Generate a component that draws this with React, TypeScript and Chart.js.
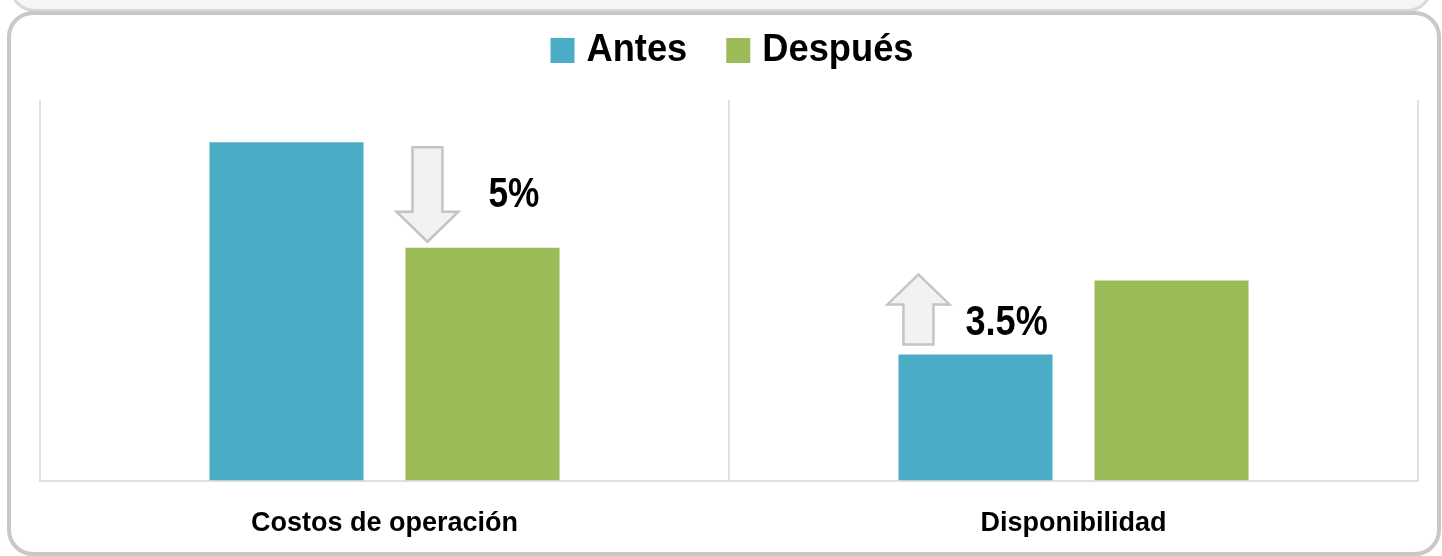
import React, { useEffect, useRef } from "react";
import { Chart, registerables } from "chart.js";

Chart.register(...registerables);

const categories = ["Costos de operación", "Disponibilidad"];
const seriesNames = ["Antes", "Después"];
const antesValues = [88.9, 33.1];
const despuesValues = [61.2, 52.6];
const changeLabels = ["5%", "3.5%"];
const changeDirections = ["down", "up"];

const BLUE = "#4BACC6";
const GREEN = "#9BBB59";
const FONT = '"Liberation Sans", Arial, Helvetica, sans-serif';

function drawArrow(ctx: CanvasRenderingContext2D, cx: number, yTail: number, yTip: number) {
  const dir = yTip > yTail ? 1 : -1;
  const shaftHalf = 15;
  const headHalf = 31;
  const headLen = 30;
  const yHeadBase = yTip - dir * headLen;
  ctx.save();
  ctx.beginPath();
  ctx.moveTo(cx - shaftHalf, yTail);
  ctx.lineTo(cx + shaftHalf, yTail);
  ctx.lineTo(cx + shaftHalf, yHeadBase);
  ctx.lineTo(cx + headHalf, yHeadBase);
  ctx.lineTo(cx, yTip);
  ctx.lineTo(cx - headHalf, yHeadBase);
  ctx.lineTo(cx - shaftHalf, yHeadBase);
  ctx.closePath();
  ctx.fillStyle = "#f2f2f2";
  ctx.fill();
  ctx.strokeStyle = "#c4c4c4";
  ctx.lineWidth = 2.5;
  ctx.lineJoin = "miter";
  ctx.stroke();
  ctx.restore();
}

function drawCondensed(ctx: CanvasRenderingContext2D, text: string, x: number, yMid: number, size: number, sx: number) {
  ctx.save();
  ctx.translate(x, yMid);
  ctx.scale(sx, 1);
  ctx.font = `bold ${size}px ${FONT}`;
  ctx.fillStyle = "#000";
  ctx.textAlign = "left";
  ctx.textBaseline = "middle";
  ctx.fillText(text, 0, 0);
  ctx.restore();
}

const annotationPlugin = {
  id: "changeAnnotations",
  afterDatasetsDraw(chart: any) {
    const ctx = chart.ctx as CanvasRenderingContext2D;
    const m0 = chart.getDatasetMeta(0);
    const m1 = chart.getDatasetMeta(1);
    categories.forEach((_, i) => {
      const a = m0.data[i];
      const d = m1.data[i];
      if (!a || !d) return;
      if (changeDirections[i] === "down") {
        const left = d.x - d.width / 2;
        const cx = left + 22;
        drawArrow(ctx, cx, a.y + 5, d.y - 6);
        drawCondensed(ctx, changeLabels[i], left + 83, (a.y + d.y) / 2, 43, 0.82);
      } else {
        const left = a.x - a.width / 2;
        const cx = left + 20;
        drawArrow(ctx, cx, a.y - 10, d.y - 6);
        drawCondensed(ctx, changeLabels[i], left + 67, (a.y + d.y) / 2 + 6, 43, 0.84);
      }
    });
  },
};

const legendPlugin = {
  id: "customLegend",
  afterDraw(chart: any) {
    const ctx = chart.ctx as CanvasRenderingContext2D;
    const colors = [BLUE, GREEN];
    const size = 39;
    const sx = 0.93;
    ctx.save();
    ctx.font = `bold ${size}px ${FONT}`;
    const box = 24;
    const gapText = 12;
    const gapItem = 39;
    const widths = seriesNames.map((s) => ctx.measureText(s).width * sx);
    ctx.restore();
    let total = 0;
    widths.forEach((w, i) => {
      total += box + gapText + w + (i < widths.length - 1 ? gapItem : 0);
    });
    const center = (chart.chartArea.left + chart.chartArea.right) / 2 + 3;
    let x = center - total / 2;
    const yMid = 50;
    seriesNames.forEach((s, i) => {
      ctx.save();
      ctx.fillStyle = colors[i];
      ctx.fillRect(x, yMid - 12, box, 25);
      ctx.restore();
      x += box + gapText;
      drawCondensed(ctx, s, x, yMid, size, sx);
      x += widths[i] + gapItem;
    });
  },
};

export default function App() {
  const ref = useRef<HTMLCanvasElement>(null);
  useEffect(() => {
    if (!ref.current) return;
    const chart = new Chart(ref.current, {
      type: "bar",
      data: {
        labels: categories,
        datasets: [
          {
            label: seriesNames[0],
            data: antesValues,
            backgroundColor: BLUE,
            categoryPercentage: 0.569,
            barPercentage: 0.786,
          },
          {
            label: seriesNames[1],
            data: despuesValues,
            backgroundColor: GREEN,
            categoryPercentage: 0.569,
            barPercentage: 0.786,
          },
        ],
      },
      options: {
        animation: false,
        responsive: false,
        maintainAspectRatio: false,
        layout: { padding: { top: 100, left: 40, right: 24, bottom: 0 } },
        plugins: {
          legend: { display: false },
          tooltip: { enabled: false },
        },
        scales: {
          x: {
            grid: {
              display: true,
              offset: true,
              color: "#e0e0e0",
              lineWidth: 2,
              drawTicks: false,
            },
            border: { display: true, color: "#e0e0e0", width: 2 },
            ticks: {
              color: "#000",
              padding: 27,
              font: { family: FONT, size: 27, weight: "bold" },
            },
          },
          y: {
            display: false,
            min: 0,
            max: 100,
          },
        },
      },
      plugins: [annotationPlugin, legendPlugin],
    });
    return () => chart.destroy();
  }, []);

  return (
    <div style={{ position: "fixed", left: 0, top: 0, width: 1442, height: 556, background: "#fff", overflow: "hidden" }}>
      <div
        style={{
          position: "absolute",
          left: 9,
          top: -60,
          width: 1424,
          height: 72,
          boxSizing: "border-box",
          background: "#f5f5f5",
          border: "3px solid #d9d9d9",
          borderRadius: 26,
        }}
      />
      <div
        style={{
          position: "absolute",
          left: 7,
          top: 11,
          width: 1434,
          height: 545,
          boxSizing: "border-box",
          border: "4px solid #c8c8c8",
          borderRadius: 26,
          background: "#fff",
        }}
      />
      <canvas ref={ref} width={1442} height={567} style={{ position: "absolute", left: 0, top: 0, width: 1442, height: 567 }} />
    </div>
  );
}
